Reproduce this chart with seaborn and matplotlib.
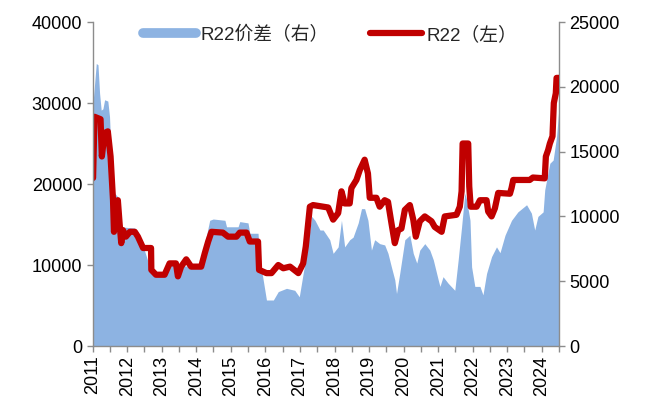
import pandas as pd
import matplotlib
matplotlib.use("Agg")
import matplotlib.pyplot as plt
import matplotlib.dates as mdates
from matplotlib.lines import Line2D
import seaborn as sns

# R22 价格（左轴）
price_dates = ["2011-01-05", "2011-01-20", "2011-03-25", "2011-04-08", "2011-05-07", "2011-06-10",
               "2011-07-09", "2011-08-04", "2011-08-14", "2011-09-24", "2011-10-12", "2011-10-30",
               "2011-11-17", "2011-12-18", "2012-01-30", "2012-03-21", "2012-04-23", "2012-06-17",
               "2012-09-09", "2012-09-12", "2012-10-31", "2013-01-30", "2013-03-24", "2013-05-30",
               "2013-06-20", "2013-07-24", "2013-09-16", "2013-11-07", "2014-02-21", "2014-04-01",
               "2014-05-06", "2014-06-10", "2014-10-08", "2014-12-02", "2015-03-01", "2015-04-05",
               "2015-06-15", "2015-07-20", "2015-10-15", "2015-10-26", "2016-01-12", "2016-03-05",
               "2016-05-16", "2016-07-08", "2016-09-17", "2016-12-14", "2017-02-03", "2017-03-03",
               "2017-04-15", "2017-05-19", "2017-10-26", "2017-12-17", "2018-02-08", "2018-03-15",
               "2018-04-18", "2018-06-10", "2018-06-28", "2018-08-20", "2018-09-24", "2018-11-15",
               "2018-12-20", "2019-01-08", "2019-03-19", "2019-04-23", "2019-06-15", "2019-07-20",
               "2019-08-25", "2019-09-30", "2019-11-04", "2019-12-09", "2020-01-14", "2020-03-07",
               "2020-04-12", "2020-05-09", "2020-06-20", "2020-08-12", "2020-10-22", "2020-11-25",
               "2021-02-06", "2021-03-11", "2021-07-13", "2021-08-17", "2021-09-05", "2021-09-16",
               "2021-11-14", "2021-11-25", "2021-12-10", "2022-02-11", "2022-03-18", "2022-05-27",
               "2022-06-13", "2022-07-19", "2022-08-23", "2022-09-27", "2023-01-29", "2023-02-15",
               "2023-03-05", "2023-08-26", "2023-09-29", "2024-02-01", "2024-02-13", "2024-03-08",
               "2024-03-26", "2024-04-23", "2024-05-07", "2024-05-28", "2024-06-05", "2024-07-01"]
price = [20750, 28300, 28000, 23400, 26300, 26500,
         23400, 18000, 14100, 18000, 15200, 12700,
         14300, 13500, 14100, 14100, 13500, 12100,
         12100, 9400, 8800, 8800, 10200, 10200,
         8600, 9800, 10700, 9800, 9800, 11500,
         12900, 14100, 14000, 13500, 13500, 14000,
         14000, 12900, 12900, 9400, 9000, 9000,
         10000, 9600, 9800, 9000, 10200, 12300,
         17200, 17400, 17100, 15600, 16400, 19100,
         17600, 17600, 19500, 20500, 21700, 23000,
         21300, 18300, 18300, 17200, 18000, 17800,
         15200, 12700, 14300, 14500, 16800, 17400,
         15600, 13500, 15400, 16000, 15400, 14700,
         14100, 16000, 16200, 17200, 19100, 25000,
         25000, 19700, 17200, 17200, 18000, 18000,
         16600, 16000, 17000, 18900, 18800, 19500,
         20500, 20500, 20800, 20700, 23400, 24200,
         25000, 25900, 30000, 31200, 33100, 33100]

# R22 价差（右轴）
spread_dates = ["2011-01-01", "2011-02-08", "2011-02-26", "2011-03-15", "2011-04-01", "2011-04-19",
                "2011-05-07", "2011-06-10", "2011-06-28", "2011-07-16", "2011-08-21", "2011-09-24",
                "2011-10-12", "2012-03-21", "2012-04-23", "2012-06-17", "2012-08-26", "2012-10-16",
                "2013-02-17", "2013-03-07", "2013-07-12", "2014-02-07", "2014-05-22", "2014-06-28",
                "2014-10-30", "2014-11-16", "2015-03-18", "2015-04-05", "2015-07-01", "2015-07-20",
                "2015-10-15", "2015-11-03", "2016-01-12", "2016-03-25", "2016-05-16", "2016-08-11",
                "2016-11-06", "2016-12-24", "2017-02-03", "2017-03-11", "2017-05-04", "2017-06-08",
                "2017-07-31", "2017-09-03", "2017-11-11", "2017-12-17", "2018-02-08", "2018-03-15",
                "2018-04-18", "2018-06-10", "2018-07-16", "2018-09-08", "2018-10-13", "2018-11-15",
                "2018-12-20", "2019-01-26", "2019-03-01", "2019-04-23", "2019-06-15", "2019-07-20",
                "2019-08-25", "2019-09-30", "2019-10-18", "2019-11-21", "2020-01-14", "2020-03-07",
                "2020-04-12", "2020-05-19", "2020-06-20", "2020-08-12", "2020-10-04", "2020-11-10",
                "2021-01-01", "2021-01-19", "2021-02-21", "2021-04-15", "2021-06-25", "2021-07-31",
                "2021-09-05", "2021-10-09", "2021-10-27", "2021-12-03", "2021-12-20", "2022-01-23",
                "2022-03-18", "2022-04-19", "2022-05-27", "2022-07-19", "2022-09-09", "2022-10-16",
                "2022-12-08", "2023-02-15", "2023-04-23", "2023-07-24", "2023-09-13", "2023-10-18",
                "2023-11-21", "2024-01-15", "2024-02-01", "2024-03-26", "2024-04-30", "2024-06-05",
                "2024-07-01"]
spread = [18460, 21800, 21700, 19500, 18200, 18300,
          19000, 18900, 17700, 14600, 11800, 11500,
          9200, 9100, 8800, 7700, 6100, 5600,
          5600, 6400, 6200, 6100, 9700, 9800,
          9700, 9200, 9200, 9600, 9500, 8700,
          8700, 6700, 3550, 3550, 4200, 4450,
          4300, 3800, 5600, 7150, 10000, 9700,
          8950, 8950, 8200, 7150, 7650, 9700,
          7650, 8200, 8400, 9500, 10600, 10600,
          9700, 7400, 8200, 7900, 7800, 7150,
          6100, 5100, 4050, 5600, 8200, 8550,
          7150, 6400, 7400, 7900, 7400, 6650,
          5100, 4600, 5350, 4850, 4300, 6650,
          9200, 11800, 11300, 9700, 6100, 4600,
          4600, 3950, 5600, 6900, 7650, 7200,
          8550, 9700, 10350, 10900, 10250, 8950,
          10000, 10350, 12050, 14100, 14350, 16150,
          18500]

left_ticks = [0, 10000, 20000, 30000, 40000]
right_ticks = [0, 5000, 10000, 15000, 20000, 25000]
label_spread = "R22价差（右）"
label_price = "R22（左）"

blue = "#8DB3E2"
red = "#C00000"
grey = "#8C8C8C"

price_df = pd.DataFrame({"date": pd.to_datetime(price_dates), "value": price})
spread_df = pd.DataFrame({"date": pd.to_datetime(spread_dates), "value": spread})

sns.set_style("ticks")
plt.rcParams["font.family"] = ["Liberation Sans", "Noto Sans CJK SC"]

fig = plt.figure(figsize=(6.45, 4.03), dpi=100)
ax = fig.add_axes([0.1437, 0.1414, 0.7230, 0.8040])
ax2 = ax.twinx()

# 价差面积图放在下层（右轴）
ax2.fill_between(spread_df["date"], 0, spread_df["value"], color=blue, linewidth=0)
ax2.set_ylim(0, 25000)
ax2.set_yticks(right_ticks)

# 价格折线放在上层（左轴）
ax.set_zorder(ax2.get_zorder() + 1)
ax.patch.set_visible(False)
sns.lineplot(data=price_df, x="date", y="value", ax=ax, color=red, linewidth=4.5,
             solid_capstyle="round", solid_joinstyle="round")
ax.set_ylim(0, 40000)
ax.set_yticks(left_ticks)
ax.set_xlim(pd.Timestamp("2011-01-01"), pd.Timestamp("2024-07-01"))
ax.xaxis.set_major_locator(mdates.YearLocator())
ax.xaxis.set_minor_locator(mdates.MonthLocator(bymonth=7))
ax.xaxis.set_major_formatter(mdates.DateFormatter("%Y"))
ax.set_xlabel("")
ax.set_ylabel("")

for a in (ax, ax2):
    for side in ("left", "right", "bottom"):
        a.spines[side].set_color(grey)
        a.spines[side].set_linewidth(1)
    a.spines["top"].set_visible(False)
    a.tick_params(axis="both", which="both", direction="out", color=grey,
                  length=4, width=1, labelsize=13, labelcolor="black")
ax.spines["right"].set_visible(False)
ax2.spines["left"].set_visible(False)
ax2.spines["bottom"].set_visible(False)
ax.tick_params(axis="x", which="major", rotation=90, pad=3)
ax.tick_params(axis="x", which="minor", labelbottom=False)

handles = [Line2D([0], [0], color=blue, linewidth=7),
           Line2D([0], [0], color=red, linewidth=4.5, solid_capstyle="round")]
ax.legend(handles, [label_spread, label_price], loc="center left",
          bbox_to_anchor=(143 / 645, 1 - 35 / 403), bbox_transform=fig.transFigure,
          ncol=2, frameon=False, fontsize=13.5, handlelength=2.8, handletextpad=0.25,
          columnspacing=2.2, borderpad=0, borderaxespad=0)

fig.savefig("out.png", dpi=100)
